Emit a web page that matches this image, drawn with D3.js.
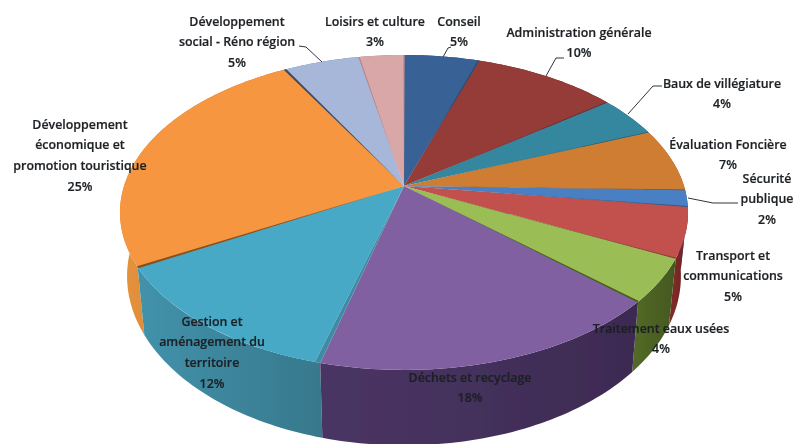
<!DOCTYPE html>
<html>
<head>
    <meta charset="utf-8" />
    <title>Répartition des dépenses</title>
    <style>
        html, body { margin: 0; padding: 0; background: #fff; overflow: hidden; }
        svg { display: block; }
        text { font-family: "Open Sans", sans-serif; font-weight: 600; font-size: 12.4px; fill: #1c2024; stroke: #1c2024; stroke-width: 0.2px; }
    </style>
</head>
<body>
    <div id="chart"></div>
    <script src="https://d3js.org/d3.v7.min.js"></script>
    <script>
        // Data, clockwise from twelve o'clock
        var categories = [
            ["Conseil"],
            ["Administration générale"],
            ["Baux de villégiature"],
            ["Évaluation Foncière"],
            ["Sécurité", "publique"],
            ["Transport et", "communications"],
            ["Traitement eaux usées"],
            ["Déchets et recyclage"],
            ["Gestion et", "aménagement du", "territoire"],
            ["Développement", "économique et", "promotion touristique"],
            ["Développement", "social - Réno région"],
            ["Loisirs et culture"]
        ];
        // the printed labels are rounded, the slices read a little finer
        var sliceValues = [5, 9.7, 4.2, 6.5, 1.7, 5.1, 4.5, 17.6, 12.6, 25, 5.1, 3];
        var percentLabels = ["5%", "10%", "4%", "7%", "2%", "5%", "4%", "18%", "12%", "25%", "5%", "3%"];

        // Styles
        var topColors = ["#386296", "#953a38", "#35879f", "#cf7d33", "#4a80c4", "#c2514e", "#9bbd55", "#8060a0", "#47a9c6", "#f6963f", "#a6b7d9", "#d9a7a8"];
        var wallColors = ["#284a70", "#6f2826", "#256478", "#a05f25", "#33608f", "#7c2a28", "#4f6524", "#46325f", "#3f8aa2", "#d98a38", "#7a8aa8", "#a87c7d"];
        var edgeColors = ["#2a4e78", "#70292a", "#28687a", "#8a5420", "#2f5a90", "#8c3533", "#44601c", "#3d8ba5", "#8a4f1c", "#3f4a60", "#b58a8c", "#b58a8c"];
        var edgeSpread = [0.003, 0.003, 0.003, 0.003, 0.003, 0.003, 0.004, 0, 0.006, 0.006, 0.003, 0.003];

        // Label layout: centre x and first line y, with the leader line if it has one
        var labelX = [459, 579, 722, 728, 767, 733, 661, 470, 212, 80, 237, 375];
        var labelY = [21, 32, 83, 144, 178, 255, 328, 377, 321, 124, 21, 21];
        var lineGap = 20.9;
        var leaders = [
            [[443, 57], [448, 48], [451, 47]],
            [[546, 76], [556, 58], [564, 58]],
            [[628, 114], [653, 86], [662, 86]],
            null,
            [[688, 198], [713, 203], [738, 203]],
            null, null, null, null, null,
            [[322, 62], [306, 47], [299, 46]],
            null
        ];

        var width = 795, height = 444;

        // The disc as Excel tilts it: apex, radii and perspective strength
        var cx = 404, cy = 186, rx = 280, ry = 153, persp = 0.168;
        // The purple slice sits a little away from its neighbour
        var purple = 7, purpleGap = 0.017;

        function project(a) {
            var u = Math.sin(a), v = -Math.cos(a), w = 1 - persp * v;
            return [cx + rx * u / w, cy + ry * v / w];
        }
        // Same point on the lower rim of the pie
        function lower(p) {
            return [cx + (p[0] - cx) * 0.975, p[1] + 68 + 0.075 * (p[1] - 270)];
        }
        function rim(a0, a1) {
            var n = Math.max(2, Math.ceil((a1 - a0) / 0.02));
            return d3.range(n + 1).map(function (i) { return project(a0 + (a1 - a0) * i / n); });
        }

        var pie = d3.pie().sort(null).value(function (d) { return d; });
        var slices = pie(sliceValues);
        var line = d3.line();

        var svg = d3.select("#chart").append("svg")
            .attr("width", width)
            .attr("height", height);

        var defs = svg.append("defs");
        defs.append("filter").attr("id", "soft")
            .append("feGaussianBlur").attr("stdDeviation", 0.45);

        // Walls darken to the right
        slices.forEach(function (d, i) {
            var g = defs.append("linearGradient").attr("id", "wall" + i);
            g.append("stop").attr("offset", 0).attr("stop-color", d3.color(wallColors[i]).brighter(0.15));
            g.append("stop").attr("offset", 1).attr("stop-color", d3.color(wallColors[i]).darker(0.4));
        });

        var pieG = svg.append("g").attr("filter", "url(#soft)");

        // Walls, back to front, then the top faces hide what is behind them
        var order = d3.range(slices.length).sort(function (a, b) {
            var ma = (slices[a].startAngle + slices[a].endAngle) / 2;
            var mb = (slices[b].startAngle + slices[b].endAngle) / 2;
            return d3.descending(Math.cos(ma), Math.cos(mb));
        });
        pieG.selectAll("path.wall")
            .data(order)
            .join("path")
            .attr("class", "wall")
            .attr("fill", function (i) { return "url(#wall" + i + ")"; })
            .attr("d", function (i) {
                var a0 = slices[i].startAngle - (i === purple + 1 ? purpleGap : 0);
                var a1 = slices[i].endAngle - (i === purple ? purpleGap : 0);
                var top = rim(a0, a1);
                var bottom = top.map(lower).reverse();
                return line(top.concat(bottom)) + "Z";
            });

        pieG.selectAll("path.top")
            .data(slices)
            .join("path")
            .attr("class", "top")
            .attr("fill", function (d, i) { return topColors[i]; })
            .attr("d", function (d, i) {
                var a1 = d.endAngle - (i === purple ? purpleGap : 0);
                return line([[cx, cy]].concat(rim(d.startAngle, a1))) + "Z";
            });

        // Thin wedges along the cuts, the slices are pulled slightly apart
        pieG.selectAll("path.edge")
            .data(slices)
            .join("path")
            .attr("class", "edge")
            .attr("fill", function (d, i) { return edgeColors[i]; })
            .attr("d", function (d, i) {
                var a0 = d.endAngle - (i === purple ? purpleGap : edgeSpread[i]);
                var a1 = d.endAngle + edgeSpread[i];
                return line([[cx, cy], project(a0), project(a1)]) + "Z";
            });

        // Leader lines
        svg.selectAll("path.leader")
            .data(leaders.filter(Boolean))
            .join("path")
            .attr("class", "leader")
            .attr("fill", "none")
            .attr("stroke", "#30343a")
            .attr("stroke-width", 1)
            .attr("d", function (d) { return line(d); });

        // Labels
        var labels = svg.append("g").attr("filter", "url(#soft)")
            .selectAll("text")
            .data(categories)
            .join("text")
            .attr("text-anchor", "middle");

        labels.each(function (d, i) {
            var rows = d.concat([percentLabels[i]]);
            d3.select(this).selectAll("tspan")
                .data(rows)
                .join("tspan")
                .attr("x", labelX[i])
                .attr("y", function (r, j) { return labelY[i] + j * lineGap + 4.5; })
                .text(function (r) { return r; });
        });
    </script>
</body>
</html>
